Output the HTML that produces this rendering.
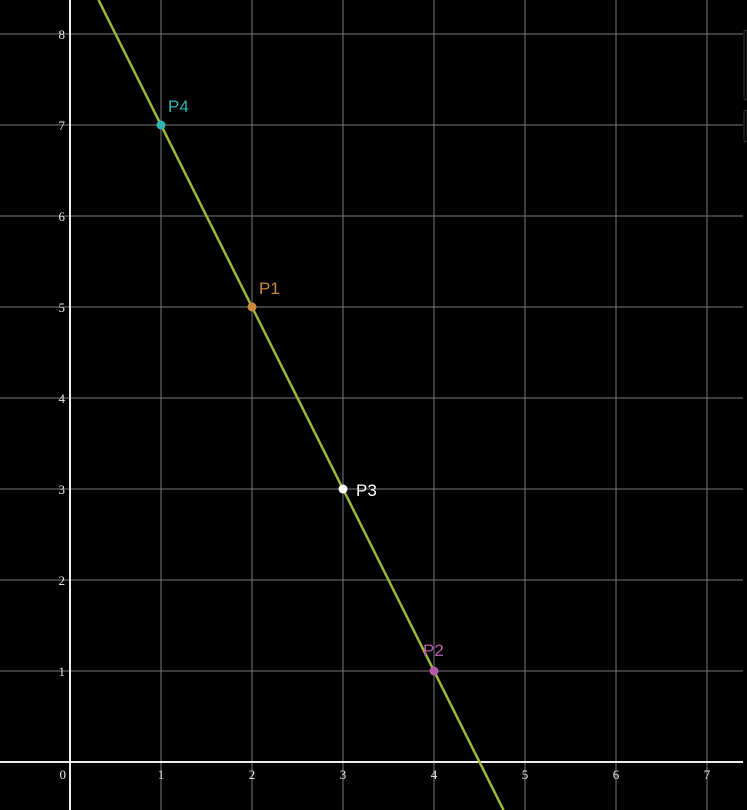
<!DOCTYPE html>
<html><head><meta charset="utf-8"><style>
html,body{margin:0;padding:0;background:#000;width:747px;height:810px;overflow:hidden}
svg{display:block;overflow:hidden}
</style></head><body>
<svg id="chart" width="747" height="810" viewBox="0 0 747 810" xmlns="http://www.w3.org/2000/svg">
<rect x="0" y="0" width="747" height="810" fill="#000"/>
<g id="grid"></g>
<g id="axes"></g>
<g id="ticks"></g>
<g id="series"></g>
<rect x="744" y="30" width="3" height="70" rx="2" fill="none" stroke="#333"/>
<rect x="744" y="110" width="3" height="32" rx="2" fill="none" stroke="#333"/>
</svg>
<script>
const xTicks = [0,1,2,3,4,5,6,7];
const yTicks = [1,2,3,4,5,6,7,8];
const lineSlope = -2;
const lineIntercept = 9;
const pointNames = ["P1","P2","P3","P4"];
const pointX = [2,4,3,1];
const pointY = [5,1,3,7];
const pointColors = ["#c98a3a","#b95aa8","#ffffff","#2fb3b3"];

const X0 = 70, Y0 = 762, U = 91, H = 810;
const sx = v => X0 + v*U;
const sy = v => Y0 - v*U;
const NS = "http://www.w3.org/2000/svg";
function mk(tag, attrs, parent){const e=document.createElementNS(NS,tag);for(const k in attrs)e.setAttribute(k,attrs[k]);parent.appendChild(e);return e;}
const grid=document.getElementById('grid'), axes=document.getElementById('axes'), ticks=document.getElementById('ticks'), series=document.getElementById('series');

xTicks.forEach(t=>{
  if(t!==0){const l=mk('line',{x1:sx(t),x2:sx(t),y1:0,y2:H,stroke:'#7a7a7a','stroke-width':1},grid);
  
  }
  const tx=mk('text',{x:sx(t)-(t===0?4:0),y:Y0+17,fill:'#e6e6e6','font-size':13,'font-family':'Liberation Serif, serif','text-anchor':t===0?'end':'middle'},ticks);
  tx.textContent=t;
  
  
});
yTicks.forEach(t=>{
  const l=mk('line',{x1:0,x2:743,y1:sy(t),y2:sy(t),stroke:'#7a7a7a','stroke-width':1},grid);
  
  
  const tx=mk('text',{x:X0-5,y:sy(t)+5,fill:'#e6e6e6','font-size':13,'font-family':'Liberation Serif, serif','text-anchor':'end'},ticks);
  tx.textContent=t;
  
  
});
const xa=mk('line',{x1:0,x2:743,y1:Y0,y2:Y0,stroke:'#eee','stroke-width':2},axes);


const ya=mk('line',{x1:X0,x2:X0,y1:0,y2:H,stroke:'#eee','stroke-width':2},axes);



// line clipped exactly to the visible frame (top y=0px, bottom y=810px)
const yTop = Y0/U, yBot = (Y0-H)/U;
const xa0=(yTop-lineIntercept)/lineSlope, xa1=(yBot-lineIntercept)/lineSlope;
const ln=mk('line',{x1:sx(xa0),y1:sy(lineSlope*xa0+lineIntercept),x2:sx(xa1),y2:sy(lineSlope*xa1+lineIntercept),stroke:'#9cb83a','stroke-width':2.5},series);



pointNames.forEach((n,i)=>{
  const c=mk('circle',{cx:sx(pointX[i]),cy:sy(pointY[i]),r:4.5,fill:pointColors[i]},series);
  
  
  let lx, ly;
  if(n==="P3"){lx=sx(pointX[i])+13; ly=sy(pointY[i])+7;}
  else if(n==="P2"){lx=sx(pointX[i])-11; ly=sy(pointY[i])-15;}
  else {lx=sx(pointX[i])+7; ly=sy(pointY[i])-13;}
  const t=mk('text',{x:lx,y:ly,fill:pointColors[i],'font-size':17,'font-family':'Liberation Sans, sans-serif'},series);
  t.textContent=n;
  
  
});
</script>
</body></html>
